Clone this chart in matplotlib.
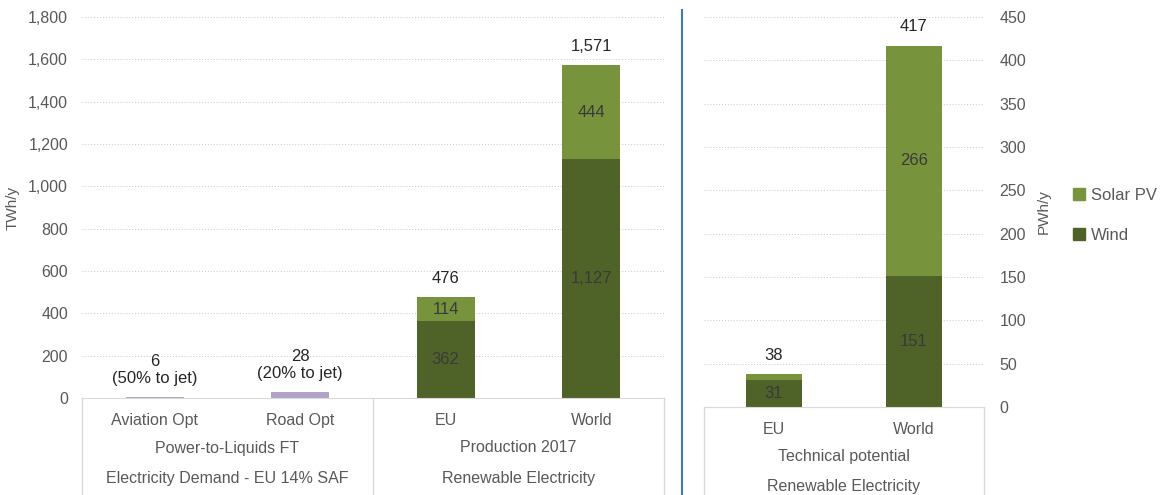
import numpy as np
import matplotlib.pyplot as plt
from matplotlib.lines import Line2D
from matplotlib.patches import Patch
from matplotlib.ticker import FuncFormatter

plt.rcParams['font.family'] = ['Liberation Sans', 'DejaVu Sans']

# demand for power-to-liquids (TWh/y)
demand_cats = ['Aviation Opt', 'Road Opt']
demand_vals = [6, 28]
demand_notes = ['(50% to jet)', '(20% to jet)']

# renewable production 2017 (TWh/y)
prod_cats = ['EU', 'World']
prod_wind = [362, 1127]
prod_solar = [114, 444]

# technical potential (PWh/y)
pot_cats = ['EU', 'World']
pot_wind = [31, 151]
pot_solar = [7, 266]

solar_col = '#77933C'
wind_col = '#4F6228'
purple = '#B3A2C7'
grey = '#595959'
lightgrey = '#D9D9D9'

fig = plt.figure(figsize=(11.67, 4.95), dpi=100)
W, H = 1167, 495
axL = fig.add_axes([82 / W, 1 - 398 / H, 582 / W, 381 / H])
axR = fig.add_axes([704 / W, 1 - 407 / H, 280 / W, 390 / H])


def style(ax):
    for s in ['top', 'left', 'right']:
        ax.spines[s].set_visible(False)
    ax.spines['bottom'].set_color(lightgrey)
    ax.grid(axis='y', linestyle=(0, (1, 2)), color='#C8C8C8', linewidth=0.7)
    ax.set_axisbelow(True)
    ax.tick_params(length=0, labelsize=11.5, colors=grey)
    ax.yaxis.set_major_formatter(FuncFormatter(lambda v, p: f'{int(v):,}'))


def category_box(ax, edges, groups, bottom):
    tr = ax.get_xaxis_transform()
    for e in edges:
        ax.plot([e, e], [0, bottom], transform=tr, color=lightgrey,
                linewidth=1, clip_on=False)
    for xc, lines in groups:
        for i, t in enumerate(lines):
            ax.annotate(t, xy=(xc, 0), xycoords=tr, xytext=(0, -36 - 21.6 * i),
                        textcoords='offset points', ha='center', va='center',
                        fontsize=11.5, color=grey)


def seg_labels(ax, x, bottoms, vals, skip=()):
    for xi, b, v in zip(x, bottoms, vals):
        if v in skip:
            continue
        ax.text(xi, b + v / 2, f'{v:,}', ha='center', va='center',
                fontsize=12, color='#3A3A3A')


def top_labels(ax, x, tops, texts):
    for xi, t, s in zip(x, tops, texts):
        ax.annotate(s, xy=(xi, t), xytext=(0, 8), textcoords='offset points',
                    ha='center', va='bottom', fontsize=12, color='#262626',
                    linespacing=1.15)


# left panel
style(axL)
xd = np.arange(len(demand_cats))
xp = np.arange(len(prod_cats)) + len(demand_cats)
axL.bar(xd, demand_vals, width=0.4, color=purple)
axL.bar(xp, prod_wind, width=0.4, color=wind_col)
axL.bar(xp, prod_solar, width=0.4, bottom=prod_wind, color=solar_col)
axL.set_xlim(-0.5, 3.5)
axL.set_ylim(0, 1800)
axL.set_yticks(np.arange(0, 1801, 200))
axL.set_xticks(np.concatenate([xd, xp]))
axL.set_xticklabels(demand_cats + prod_cats)
axL.tick_params(axis='x', pad=11, labelsize=11.5)
axL.tick_params(axis='y', pad=10)
axL.set_ylabel('TWh/y', fontsize=11, color=grey, labelpad=6)

top_labels(axL, xd, demand_vals,
           [f'{v}\n{n}' for v, n in zip(demand_vals, demand_notes)])
prod_tot = [w + s for w, s in zip(prod_wind, prod_solar)]
top_labels(axL, xp, prod_tot, [f'{v:,}' for v in prod_tot])
seg_labels(axL, xp, [0, 0], prod_wind)
seg_labels(axL, xp, prod_wind, prod_solar)
category_box(axL, [-0.5, 1.5, 3.5],
             [(0.5, ['Power-to-Liquids FT', 'Electricity Demand - EU 14% SAF']),
              (2.5, ['Production 2017', 'Renewable Electricity'])], -0.26)

# right panel
style(axR)
xr = np.arange(len(pot_cats))
axR.bar(xr, pot_wind, width=0.4, color=wind_col)
axR.bar(xr, pot_solar, width=0.4, bottom=pot_wind, color=solar_col)
axR.set_xlim(-0.5, 1.5)
axR.set_ylim(0, 450)
axR.set_yticks(np.arange(0, 451, 50))
axR.set_xticks(xr)
axR.set_xticklabels(pot_cats)
axR.tick_params(axis='x', pad=11, labelsize=11.5)
axR.yaxis.tick_right()
axR.tick_params(axis='y', pad=11)
axR.yaxis.set_label_position('right')
axR.set_ylabel('PWh/y', fontsize=11, color=grey, labelpad=8)
pot_tot = [w + s for w, s in zip(pot_wind, pot_solar)]
top_labels(axR, xr, pot_tot, [f'{v:,}' for v in pot_tot])
seg_labels(axR, xr, [0, 0], pot_wind)
seg_labels(axR, xr, pot_wind, pot_solar, skip=(pot_solar[0],))
category_box(axR, [-0.5, 1.5],
             [(0.5, ['Technical potential', 'Renewable Electricity'])], -0.25)

# divider between panels
fig.add_artist(Line2D([682 / W, 682 / W], [0, 1 - 10 / H],
                      transform=fig.transFigure, color='#4472C4', linewidth=1.5))

handles = [Patch(color=solar_col), Patch(color=wind_col)]
fig.legend(handles, ['Solar PV', 'Wind'], loc='center left',
           bbox_to_anchor=(1073 / W, 1 - 215 / H), frameon=False,
           borderpad=0, borderaxespad=0,
           fontsize=12, labelcolor=grey, handlelength=0.7, handleheight=0.7,
           handletextpad=0.4, labelspacing=1.5)

fig.savefig('out.png', dpi=100)
